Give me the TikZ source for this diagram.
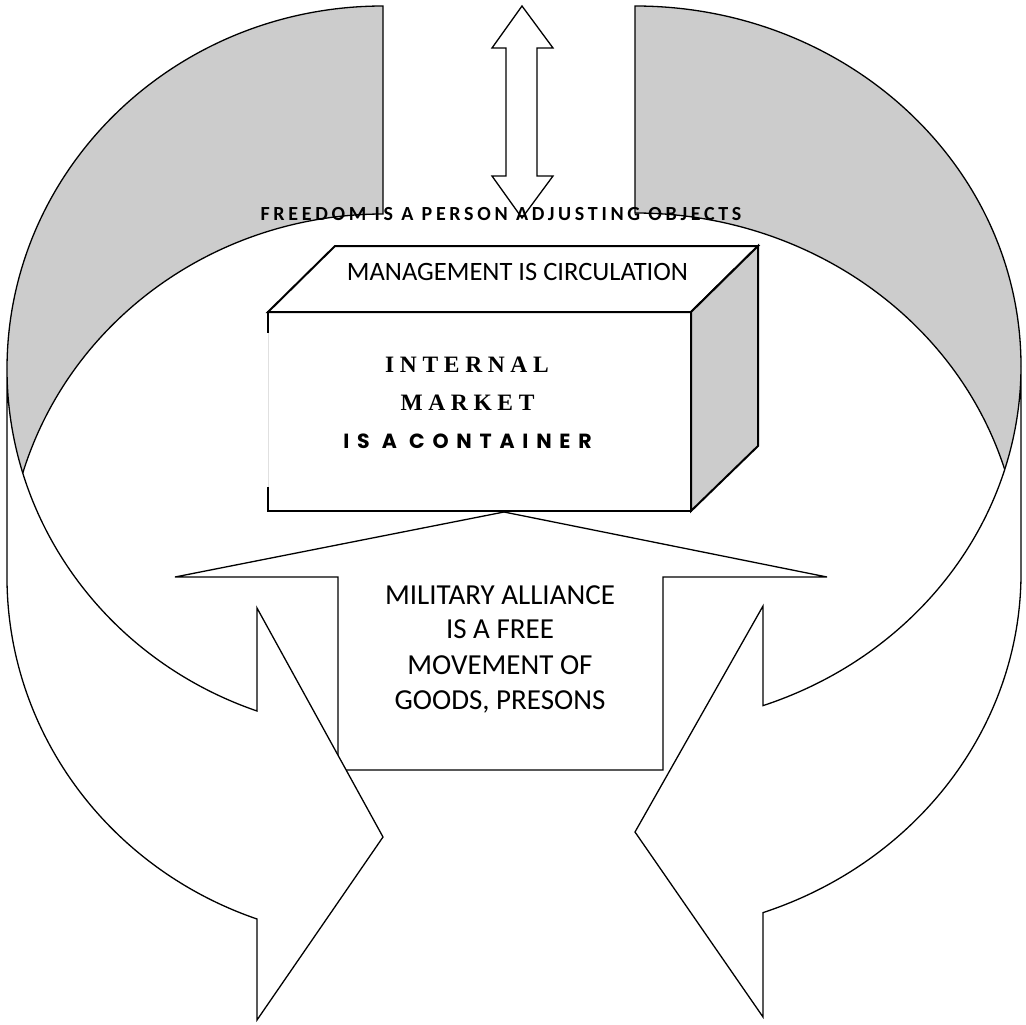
\documentclass[tikz,border=0pt]{standalone}
\usepackage{fontspec}
\setmainfont{Carlito}
\newfontfamily\calib{Carlito}
\newfontfamily\calibspaced[LetterSpace=18.5]{Carlito}
\newfontfamily\timesspaced[LetterSpace=24]{Liberation Serif}
\newfontfamily\popspaced[LetterSpace=38]{Poppins}
\definecolor{bandgray}{RGB}{204,204,204}
\begin{document}
\begin{tikzpicture}[x=1pt,y=-1pt,
  outline/.style={draw=black,line width=1.3pt,line join=miter},
  cubeline/.style={draw=black,line width=2pt,line join=miter},
  label/.style={anchor=base,inner sep=0pt}]
\useasboundingbox (0,0) rectangle (1026,1025);
\fill[white] (0,0) rectangle (1026,1025);

% shaded back parts of the curved arrows
\fill[bandgray] (383,6) arc[start angle=270,end angle=163.351,x radius=376,y radius=363]
  arc[start angle=196.649,end angle=270,x radius=376,y radius=363] -- cycle;
\fill[bandgray] (635,6) arc[start angle=270,end angle=376.708,x radius=386,y radius=360]
  arc[start angle=343.292,end angle=270,x radius=386,y radius=360] -- cycle;

% outlines of the back parts
\draw[outline] (7,369) arc[start angle=180,end angle=270,x radius=376,y radius=363]
  -- (383,214) arc[start angle=270,end angle=196.649,x radius=376,y radius=363];
\draw[outline] (1021,366) arc[start angle=360,end angle=270,x radius=386,y radius=360]
  -- (635,213) arc[start angle=270,end angle=343.292,x radius=386,y radius=360];

% up-arrow callout
\draw[outline,fill=white] (504,512) -- (827,577) -- (663,577) -- (663,770) -- (338,770)
  -- (338,577) -- (175,577) -- cycle;

% front parts of the curved arrows
\draw[outline,fill=white] (7,369) arc[start angle=180,end angle=109.578,x radius=376,y radius=363]
  -- (257,608) -- (383,837) -- (257,1020) -- (257,919)
  arc[start angle=109.578,end angle=180,x radius=376,y radius=363] -- cycle;
\draw[outline,fill=white] (1021,366) arc[start angle=0,end angle=70.634,x radius=386,y radius=360]
  -- (763,606) -- (635,832) -- (763,1017) -- (763,912.6)
  arc[start angle=70.634,end angle=0,x radius=386,y radius=360] -- cycle;

% cube
\draw[cubeline,fill=white] (268,312) rectangle (691,511);
\draw[cubeline,fill=white] (268,312) -- (335,246) -- (758,246) -- (691,312) -- cycle;
\draw[cubeline,fill=bandgray] (691,312) -- (758,246) -- (758,446) -- (691,511) -- cycle;
\fill[white] (266,333) rectangle (271,487);
\draw[black!12,line width=1pt] (268,333) -- (268,487);

% double arrow
\draw[outline,fill=white] (522,6) -- (553,48) -- (537,48) -- (537,176) -- (553,176)
  -- (522,218) -- (492,176) -- (506,176) -- (506,48) -- (492,48) -- cycle;

% texts
\node[label] (freedom) at (501,220) {\calibspaced\bfseries\fontsize{20}{24}\selectfont FREEDOM IS A PERSON ADJUSTING OBJECTS};
\node[label] (mgmt) at (517.5,280) {\calib\fontsize{26.5}{30}\selectfont MANAGEMENT IS CIRCULATION};
\node[label] (internal) at (467,372) {\timesspaced\bfseries\fontsize{23.5}{28}\selectfont INTERNAL};
\node[label] (market) at (467.5,410) {\timesspaced\bfseries\fontsize{23.5}{28}\selectfont MARKET};
\node[label] (container) at (467.5,448) {\popspaced\bfseries\fontsize{20.5}{24}\selectfont IS A CONTAINER};
\node[label] (mil1) at (500,604) {\calib\fontsize{29}{35}\selectfont MILITARY ALLIANCE};
\node[label] (mil2) at (500,638) {\calib\fontsize{29}{35}\selectfont IS A FREE};
\node[label] (mil3) at (500,674) {\calib\fontsize{29}{35}\selectfont MOVEMENT OF};
\node[label] (mil4) at (500,709) {\calib\fontsize{29}{35}\selectfont GOODS, PRESONS};
\end{tikzpicture}
\end{document}
